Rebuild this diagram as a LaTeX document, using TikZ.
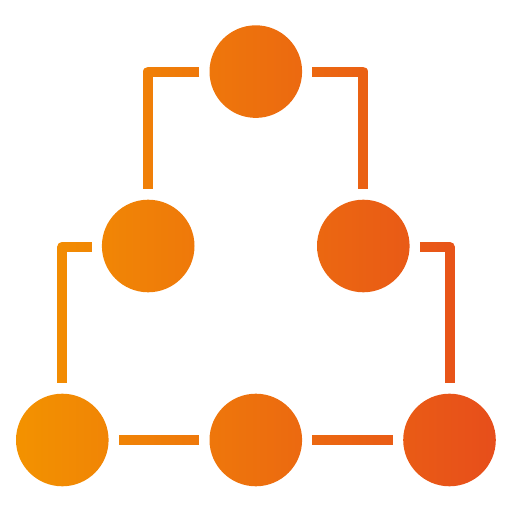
\documentclass[tikz,border=0pt]{standalone}
\usetikzlibrary{calc}
\definecolor{gradL}{RGB}{243,146,0}
\definecolor{gradR}{RGB}{231,78,27}
\tikzset{
  dot/.style={circle,fill=black,draw=none,inner sep=0pt,minimum size=92.6pt},
  conn/.style={draw=black,line width=10pt,line join=round,line cap=butt}
}
\begin{document}
\begin{tikzpicture}[x=1pt,y=1pt]
\useasboundingbox (0,0) rectangle (512,512);
\fill[white] (0,0) rectangle (512,512);
% nodes
\node[dot] (t)  at (255.8,440.4) {};
\node[dot] (ml) at (148.2,266) {};
\node[dot] (mr) at (363.3,266) {};
\node[dot] (bl) at (62.3,72) {};
\node[dot] (bm) at (255.8,72) {};
\node[dot] (br) at (449.5,72) {};
% connectors
\draw[conn] ([xshift=-10pt]t.west) -| ([yshift=10pt]ml.north);
\draw[conn] ([xshift=10pt]t.east) -| ([yshift=10pt]mr.north);
\draw[conn] ([xshift=-10pt,yshift=-0.7pt]ml.west) -| ([yshift=10pt]bl.north);
\draw[conn] ([xshift=10pt,yshift=-0.7pt]mr.east) -| ([yshift=10pt]br.north);
\draw[conn] ([xshift=10pt]bl.east) -- ([xshift=-10pt]bm.west);
\draw[conn] ([xshift=10pt]bm.east) -- ([xshift=-10pt]br.west);
% gradient colouring
\shade[left color=gradL,right color=gradR,blend mode=screen] (16,0) rectangle (496,512);
\end{tikzpicture}
\end{document}
